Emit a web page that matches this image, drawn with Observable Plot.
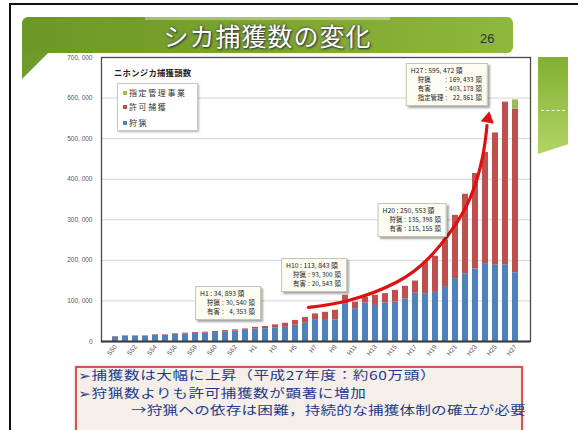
<!DOCTYPE html>
<html><head><meta charset="utf-8">
<script src="https://cdn.jsdelivr.net/npm/d3@7"></script>
<script src="https://cdn.jsdelivr.net/npm/@observablehq/plot@0.6"></script>
<style>
body{margin:0;background:#fff;}
#page{position:relative;width:578px;height:430px;overflow:hidden;background:#fff;font-family:"Noto Sans CJK JP","Noto Sans",sans-serif;}
.abs{position:absolute;}
#frameTop{left:10px;top:3px;width:568px;height:2px;background:#111;}
#frameLeft{left:9px;top:3px;width:2px;height:427px;background:#111;}
#banner{left:22px;top:17px;width:491px;height:36px;border-radius:6px;background:linear-gradient(90deg,#6b9826 0%,#7ea52e 50%,#8fb83e 100%);}
#bannerHi{left:145px;top:17px;width:245px;height:3px;background:rgba(255,255,255,0.35);}
#tail{left:22px;top:45px;width:34px;height:34px;background:#6f9b2b;clip-path:polygon(0 0,100% 0,0 100%);}
#band{left:538px;top:57px;width:30px;height:97px;background:linear-gradient(180deg,#82b032,#b2d466);clip-path:polygon(0 0,100% 0,100% 90%,0 100%);}
#bandDash{left:541px;top:110px;width:24px;border-top:1px dashed rgba(255,255,255,0.9);}
#title{left:22px;top:16px;width:491px;text-align:center;font-size:25px;line-height:38px;color:#fff;text-shadow:1px 1px 2px #333,0 0 3px #445;letter-spacing:1px;}
#pageno{left:480px;top:31px;font-size:13px;color:#333;font-family:"Liberation Sans",sans-serif;}
#chartTitle{left:114px;top:66px;font-size:8.3px;font-weight:bold;color:#222;letter-spacing:0.3px;}
#legend{left:117px;top:83px;width:79px;height:46px;border:1px solid #c8c8c8;background:#fff;box-shadow:1px 1px 2px rgba(0,0,0,0.3);}
.li{position:absolute;left:5px;font-size:8px;letter-spacing:1.6px;color:#333;white-space:nowrap;}
.li i{display:inline-block;width:4px;height:4px;margin-right:2px;vertical-align:1px;}
.note{position:absolute;transform:translate(-100%,-100%);background:#fcfcf3;border:1px solid #c4c4b4;box-shadow:2px 2px 2px rgba(0,0,0,0.35);padding:2px 5px 3px 4px;font-size:6.4px;line-height:9px;color:#222;white-space:nowrap;}
.note .hd{font-size:6.8px;}
.note .g{display:grid;grid-template-columns:auto auto auto auto;column-gap:2px;padding-left:7px;}
.note .g .n{text-align:right;}
#box{left:75px;top:366px;width:444px;height:80px;border:2px solid #d85454;background:#f6efe9;box-shadow:0 0 2px #f0b0b0;}
.bt{position:absolute;font-size:12px;line-height:17px;height:17px;color:#1d3a8c;white-space:nowrap;letter-spacing:0.45px;transform:scaleX(1.3);transform-origin:0 50%;}
</style></head>
<body><div id="page">
<div class="abs" id="frameTop"></div>
<div class="abs" id="frameLeft"></div>
<div class="abs" id="tail"></div>
<div class="abs" id="banner"></div>
<div class="abs" id="bannerHi"></div>
<div class="abs" id="band"></div>
<div class="abs" id="bandDash"></div>
<div class="abs" id="title">シカ捕獲数の変化</div>
<div class="abs" id="pageno">26</div>
<div class="abs" id="chartHolder" style="left:0;top:0;"></div>
<div class="abs" id="overlayHolder" style="left:0;top:0;"></div>
<div class="abs" id="chartTitle">ニホンジカ捕獲頭数</div>
<div class="abs" id="legend"></div>
<div class="abs" id="notes" style="left:0;top:0;"></div>
<div class="abs" id="box"></div>
<div class="bt" style="left:78px;top:366px;">➢捕獲数は大幅に上昇（平成27年度：約60万頭）</div>
<div class="bt" style="left:78px;top:383.5px;">➢狩猟数よりも許可捕獲数が顕著に増加</div>
<div class="bt" style="left:131px;top:401px;letter-spacing:0.15px;">→狩猟への依存は困難，持続的な捕獲体制の確立が必要</div>
</div>
<script>
const years = ["S50","S51","S52","S53","S54","S55","S56","S57","S58","S59","S60","S61","S62","S63",
  "H1","H2","H3","H4","H5","H6","H7","H8","H9","H10","H11","H12","H13","H14","H15","H16","H17","H18","H19",
  "H20","H21","H22","H23","H24","H25","H26","H27"];
const hunting = [11000,12800,12800,12700,15000,15000,17200,18500,19800,20500,22000,24000,25500,27500,
  30540,31500,33000,35000,40000,45000,54000,52000,53000,93300,81000,95000,89000,95000,97000,105000,119000,118000,121000,
  135398,155000,167000,179000,192000,189000,189000,169433];
const permit = [1300,1200,1200,1300,1500,1500,1800,2100,2200,2500,2700,3000,3300,3500,
  4353,5500,8000,10000,12000,14000,14000,20000,24000,20543,16000,14000,25000,23000,29000,31000,30000,78000,89000,
  115155,156000,196000,235000,274000,325000,401000,403178];
const designated = [0,0,0,0,0,0,0,0,0,0,0,0,0,0,
  0,0,0,0,0,0,0,0,0,0,0,0,0,0,0,0,0,0,0,
  0,0,0,0,0,0,0,22861];
const seriesNames = ["狩猟","許可捕獲","指定管理事業"];
const seriesColors = ["#4f81bd","#c0504d","#9bbb59"];
const yTicks = [0,100000,200000,300000,400000,500000,600000,700000];
const xTickLabels = ["S50","S52","S54","S56","S58","S60","S62","H1","H3","H5","H7","H9","H11","H13","H15","H17","H19","H21","H23","H25","H27"];
// red trend arrow, in (bar index, head count) space
const arrowIdx = [19.3,23.3,28.1,31.3,33.6,35.5,36.7,37.15];
const arrowVal = [84000,101000,146000,205000,274000,356000,454000,532000];
const arrowTip = {i:37.25, value:549000, angle:11};

const seriesArrays = [hunting, permit, designated];
const rows = [];
years.forEach((yr, i) => seriesNames.forEach((s, k) => rows.push({year: yr, series: s, value: seriesArrays[k][i]})));

const fmt = d => d3.format(",")(d).replace(/,/g, ", ");

const chart = Plot.plot({
  width: 578, height: 368,
  marginLeft: 101, marginRight: 48, marginTop: 57, marginBottom: 27,
  style: {background: "transparent", overflow: "visible", fontFamily: "Liberation Sans, sans-serif"},
  x: {domain: years, paddingInner: 0.38, paddingOuter: 0, insetLeft: 2, insetRight: 3, label: null},
  y: {domain: [0, 700000], label: null},
  color: {domain: seriesNames, range: seriesColors},
  marks: [
    Plot.gridY(yTicks, {stroke: "#d4d4d4", strokeOpacity: 1}),
    Plot.barY(rows, {x: "year", y: "value", fill: "series", order: seriesNames}),
    Plot.frame({stroke: "#4a4a4a", strokeWidth: 1.3}),
    Plot.ruleY([0], {stroke: "#3c3c3c", strokeWidth: 2.2}),
    Plot.axisY(yTicks, {tickSize: 0, tickPadding: 9, tickFormat: fmt, fontSize: 6.5, fill: "#555", label: null}),
    Plot.axisX(xTickLabels, {tickSize: 0, tickPadding: 4, tickRotate: -52, fontSize: 6.5, fill: "#555", label: null})
  ]
});
document.getElementById("chartHolder").appendChild(chart);

const xs = chart.scale("x"), ys = chart.scale("y");
const half = xs.bandwidth / 2;
const c0 = xs.apply(years[0]) + half, c1 = xs.apply(years[years.length - 1]) + half;
const arrowPts = arrowIdx.map((i, k) => ({i, value: arrowVal[k]}));
const overlay = Plot.plot({
  width: 578, height: 368,
  style: {background: "transparent", overflow: "visible"},
  x: {type: "linear", domain: [0, years.length - 1], range: [c0, c1], axis: null},
  y: {domain: ys.domain, range: ys.range, axis: null},
  marks: [
    Plot.line(arrowPts, {x: "i", y: "value", curve: "natural", stroke: "#e01010", strokeWidth: 3.2}),
    Plot.dot([arrowTip], {x: "i", y: "value", symbol: "triangle", r: 5, fill: "#e01010", stroke: "none", rotate: "angle"})
  ]
});
document.getElementById("overlayHolder").appendChild(overlay);

// legend
const legend = document.getElementById("legend");
const legendTops = [3, 17, 33];
[2, 1, 0].forEach((k, j) => {
  const d = document.createElement("div");
  d.className = "li";
  d.style.top = legendTops[j] + "px";
  d.innerHTML = `<i style="background:${seriesColors[k]}"></i>${seriesNames[k]}`;
  legend.appendChild(d);
});

// annotation boxes anchored to bars
const notes = [
  {year: "H1", value: 34893, dx: 6, dy: -7, head: "H1 : 34, 893 頭", rows: [["狩猟", "30, 540"], ["有害", "4, 353"]]},
  {year: "H10", value: 113843, dx: 2, dy: -3, head: "H10 : 113, 843 頭", rows: [["狩猟", "93, 300"], ["有害", "20, 543"]]},
  {year: "H20", value: 250553, dx: 2, dy: -2, head: "H20 : 250, 553 頭", rows: [["狩猟", "135, 398"], ["有害", "115, 155"]]},
  {year: "H27", value: 595472, dx: -27, dy: 7, head: "H27 : 595, 472 頭", rows: [["狩猟", "169, 433"], ["有害", "403, 178"], ["指定管理", "22, 861"]]}
];
const notesEl = document.getElementById("notes");
notes.forEach(n => {
  const d = document.createElement("div");
  d.className = "note";
  d.style.left = (xs.apply(n.year) + half + n.dx) + "px";
  d.style.top = (ys.apply(n.value) + n.dy) + "px";
  d.innerHTML = `<div class="hd">${n.head}</div><div class="g">` +
    n.rows.map(r => `<span>${r[0]}</span><span>:</span><span class="n">${r[1]}</span><span>頭</span>`).join("") + `</div>`;
  notesEl.appendChild(d);
});
</script>
</body></html>
